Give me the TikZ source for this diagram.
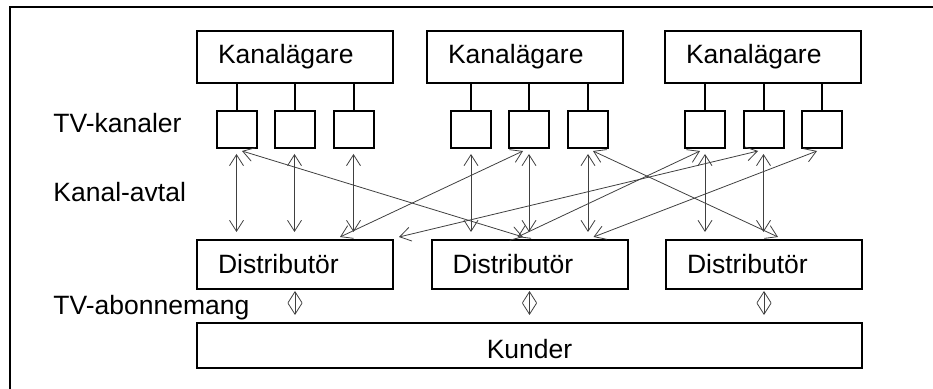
\documentclass[tikz,border=0pt]{standalone}
\usepackage{fontspec}
\setmainfont{Liberation Sans}
\usetikzlibrary{arrows.meta}

\begin{document}
\begin{tikzpicture}[
    x=0.5pt, y=-0.5pt,
    font=\fontsize{13.25}{16}\selectfont,
    owner/.style={draw, line width=1pt, minimum height=26pt, text width=77pt, inner xsep=10.5pt, align=left},
    distr/.style={owner, minimum height=24.5pt},
    channel/.style={draw, line width=1pt, minimum width=20pt, minimum height=18.5pt, inner sep=0pt},
    side/.style={anchor=base west, inner sep=0pt},
    contract/.style={<->, line width=0.4pt, draw=black!75},
    direct/.style={contract, shorten <=2.5pt, shorten >=3.5pt},
    >={Straight Barb[length=5.5pt, width=7pt]}
]
    \useasboundingbox (0,0) rectangle (933,389);

    % Frame (top and left edge)
    \draw[line width=1pt] (10,389) -- (10,7) -- (933,7);

    % Row labels
    \node[side] (tvk) at (53,133) {TV-kanaler};
    \node[side] (avt) at (53,202) {Kanal-avtal};
    \node[side] (abo) at (53,315) {TV-abonnemang};

    % Channel owners
    \node[owner] (k1) at (295,57) {Kanalägare};
    \node[owner] (k2) at (525,57) {Kanalägare};
    \node[owner] (k3) at (763,57) {Kanalägare};

    % TV channels
    \node[channel] (c11) at (236.5,129.5) {};
    \node[channel] (c12) at (294.5,129.5) {};
    \node[channel] (c13) at (353.5,129.5) {};
    \node[channel] (c21) at (471,129.5) {};
    \node[channel] (c22) at (529,129.5) {};
    \node[channel] (c23) at (588,129.5) {};
    \node[channel] (c31) at (705,129.5) {};
    \node[channel] (c32) at (763.5,129.5) {};
    \node[channel] (c33) at (822,129.5) {};

    \draw[line width=1pt] (c11.north) -- (c11.north |- k1.south);
    \draw[line width=1pt] (c12.north) -- (c12.north |- k1.south);
    \draw[line width=1pt] (c13.north) -- (c13.north |- k1.south);
    \draw[line width=1pt] (c21.north) -- (c21.north |- k2.south);
    \draw[line width=1pt] (c22.north) -- (c22.north |- k2.south);
    \draw[line width=1pt] (c23.north) -- (c23.north |- k2.south);
    \draw[line width=1pt] (c31.north) -- (c31.north |- k3.south);
    \draw[line width=1pt] (c32.north) -- (c32.north |- k3.south);
    \draw[line width=1pt] (c33.north) -- (c33.north |- k3.south);

    % Distributors and customers
    \node[distr] (d1) at (295,264.5) {Distributör};
    \node[distr] (d2) at (529.5,264.5) {Distributör};
    \node[distr] (d3) at (764,264.5) {Distributör};
    \node[draw, line width=1pt, minimum width=332.5pt, minimum height=22.5pt, text height=12.7pt, text depth=0pt] (kund) at (529.5,345.5) {Kunder};

    % Channel contracts, straight down
    \draw[direct] (c11.south) -- (c11.south |- d1.north);
    \draw[direct] (c12.south) -- (c12.south |- d1.north);
    \draw[direct] (c13.south) -- (c13.south |- d1.north);
    \draw[direct] (c21.south) -- (c21.south |- d2.north);
    \draw[direct] (c22.south) -- (c22.south |- d2.north);
    \draw[direct] (c23.south) -- (c23.south |- d2.north);
    \draw[direct] (c31.south) -- (c31.south |- d3.north);
    \draw[direct] (c32.south) -- (c32.south |- d3.north);

    % Channel contracts, crossing over
    \draw[contract] ([shift={(5.5,2)}]c11.south) -- ([shift={(-6.5,-2)}]d2.north);
    \draw[contract] ([shift={(45,-2)}]d1.north) -- ([shift={(-6,2)}]c22.south);
    \draw[contract] ([shift={(5,-2)}]d1.north east) -- ([shift={(-5.5,2)}]c32.south);
    \draw[contract] ([shift={(5,2)}]c23.south) -- ([shift={(14,-2)}]d3.north);
    \draw[contract] ([shift={(64,-2)}]d2.north) -- ([shift={(-5,2)}]c33.south);
    \draw[contract] ([shift={(-12,-2)}]d2.north) -- ([shift={(-5,2)}]c31.south);

    % Subscriptions
    \draw[contract, shorten <=0.5pt, shorten >=3.5pt] (d1.south) -- (d1.south |- kund.north);
    \draw[contract, shorten <=0.5pt, shorten >=3.5pt] (d2.south) -- (d2.south |- kund.north);
    \draw[contract, shorten <=0.5pt, shorten >=3.5pt] (d3.south) -- (d3.south |- kund.north);
\end{tikzpicture}
\end{document}
